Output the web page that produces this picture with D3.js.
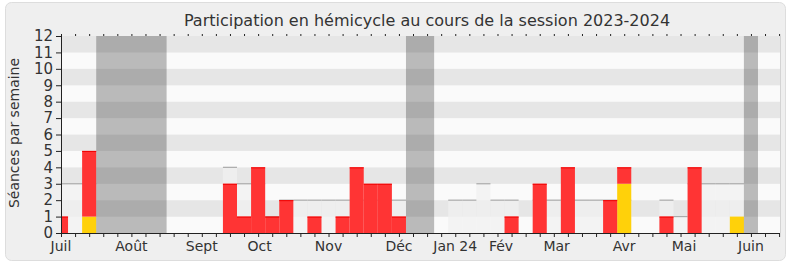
<!DOCTYPE html>
<html><head><meta charset="utf-8">
<script src="https://cdn.jsdelivr.net/npm/d3@7"></script>
<style>body{margin:0;background:#fff;} svg{display:block;font-family:"DejaVu Sans",sans-serif;}</style>
</head><body><svg id="c" width="790" height="267"></svg>
<script>
// ---- data ----
const weeks = d3.range(52);
const interventions = [0,0,1,0,0,0,0,0,0,0, 0,0,0,0,0,0,0,0,0,0, 0,0,0,0,0,0,0,0,0,0, 0,0,0,0,0,0,0,0,0,0, 3,0,0,0,0,0,0,0,1,0, 0,0];
const presences =     [1,0,4,0,0,0,0,0,0,0, 0,0,3,1,4,1,2,0,1,0, 1,4,3,3,1,0,0,0,0,0, 0,0,1,0,3,0,4,0,0,2, 1,0,0,1,0,4,0,0,0,0, 0,0];
const mediane =       [3,3,3,0,0,0,0,0,0,0, 0,0,4,3,3,1,2,2,2,2, 2,2,2,2,2,0,0,0,2,2, 3,2,2,0,2,2,2,2,2,2, 2,0,0,2,1,3,3,3,3,0, 0,0];
const vacances = [[3,7],[25,26],[49,49]];
const monthLabels = ["Juil","Août","Sept","Oct","Nov","Déc","Jan 24","Fév","Mar","Avr","Mai","Juin"];
const monthWeeks = [0,5,10,14.1,19,24,28,31.25,35.2,40,44.25,49];
const yTicks = d3.range(13);
const title = "Participation en hémicycle au cours de la session 2023-2024";
const yTitle = "Séances par semaine";

// ---- layout ----
const svg = d3.select("#c");
const L = 61, R = 780, T = 36, B = 233;
const x = d3.scaleLinear().domain([0, 51]).range([L, 779.1]);
const y = d3.scaleLinear().domain([0, 12]).range([B, T]);
const half = (x(1) - x(0)) / 2;

svg.append("rect").attr("x", 5.5).attr("y", 2.5).attr("width", 780).attr("height", 258)
  .attr("rx", 6).attr("fill", "#efefef").attr("stroke", "#dddddd");

svg.append("defs").append("clipPath").attr("id", "clip")
  .append("rect").attr("x", L).attr("y", T).attr("width", R - L).attr("height", B - T);

const plot = svg.append("g").attr("clip-path", "url(#clip)");

// stripes
plot.selectAll("rect.stripe").data(d3.range(12)).join("rect")
  .attr("x", L).attr("width", R - L)
  .attr("y", d => y(d + 1)).attr("height", d => y(d) - y(d + 1))
  .attr("fill", d => d % 2 === 1 ? "#e6e6e6" : "#fafafa");

// median area
const med = weeks.filter(i => mediane[i] > 0);
plot.selectAll("rect.med").data(med).join("rect")
  .attr("x", i => x(i) - half).attr("width", half * 2)
  .attr("y", i => y(mediane[i])).attr("height", i => B - y(mediane[i]))
  .attr("fill", "#f0f0f0").attr("fill-opacity", 0.75);
plot.selectAll("line.med").data(med).join("line")
  .attr("x1", i => x(i) - half).attr("x2", i => x(i) + half)
  .attr("y1", i => y(mediane[i])).attr("y2", i => y(mediane[i]))
  .attr("stroke", "#aaaaaa").attr("stroke-width", 1.2);

// yellow bars
const yel = weeks.filter(i => interventions[i] > 0);
plot.selectAll("rect.yel").data(yel).join("rect")
  .attr("x", i => x(i) - half).attr("width", half * 2)
  .attr("y", i => y(interventions[i])).attr("height", i => B - y(interventions[i]))
  .attr("fill", "#ffd10a");

// red bars
const red = weeks.filter(i => presences[i] > 0);
plot.selectAll("rect.red").data(red).join("rect")
  .attr("x", i => x(i) - half).attr("width", half * 2)
  .attr("y", i => y(interventions[i] + presences[i]))
  .attr("height", i => y(interventions[i]) - y(interventions[i] + presences[i]))
  .attr("fill", "#ff3434");
plot.selectAll("line.red").data(red).join("line")
  .attr("x1", i => x(i) - half).attr("x2", i => x(i) + half)
  .attr("y1", i => y(interventions[i] + presences[i]) + 0.5)
  .attr("y2", i => y(interventions[i] + presences[i]) + 0.5)
  .attr("stroke", "#f00000").attr("stroke-width", 1);

// vacations
plot.selectAll("rect.vac").data(vacances).join("rect")
  .attr("x", d => x(d[0]) - half).attr("width", d => x(d[1]) - x(d[0]) + 2 * half)
  .attr("y", T).attr("height", B - T)
  .attr("fill", "rgb(40,40,40)").attr("fill-opacity", 0.3);

// right border
svg.append("line").attr("x1", R + 0.5).attr("x2", R + 0.5).attr("y1", T).attr("y2", B)
  .attr("stroke", "#d4d4d4");

// axes
const ax = svg.append("g").attr("transform", `translate(0,${B})`)
  .call(d3.axisBottom(x).tickValues(weeks).tickSize(4).tickFormat(""));
ax.selectAll("path,line").attr("stroke", "#222");
ax.select("path").attr("d", `M${L},0.5H${R}`);

const at = svg.append("g").attr("transform", `translate(0,${T})`)
  .call(d3.axisTop(x).tickValues(weeks).tickSize(2).tickFormat(""));
at.select("path").remove();
at.selectAll("line").attr("stroke", "#222");

svg.append("g").selectAll("text").data(monthLabels).join("text")
  .attr("x", (d, i) => x(monthWeeks[i])).attr("y", 251)
  .attr("text-anchor", "middle").attr("font-size", 14).attr("fill", "#333")
  .text(d => d);

const ay = svg.append("g").attr("transform", `translate(${L},0)`)
  .call(d3.axisLeft(y).tickValues(yTicks).tickSize(5).tickPadding(3));
ay.select("path").attr("d", `M0.5,${T}V${B}`).attr("stroke", "#222");
ay.selectAll("line").attr("stroke", "#222");
ay.selectAll("text").attr("font-size", 15).attr("fill", "#333").attr("font-family", "DejaVu Sans");

svg.append("text").attr("x", 427).attr("y", 26).attr("text-anchor", "middle")
  .attr("font-size", 16).attr("fill", "#333").text(title);

svg.append("text").attr("transform", "translate(19,133) rotate(-90)")
  .attr("text-anchor", "middle").attr("font-size", 14).attr("fill", "#333").text(yTitle);
</script></body></html>
